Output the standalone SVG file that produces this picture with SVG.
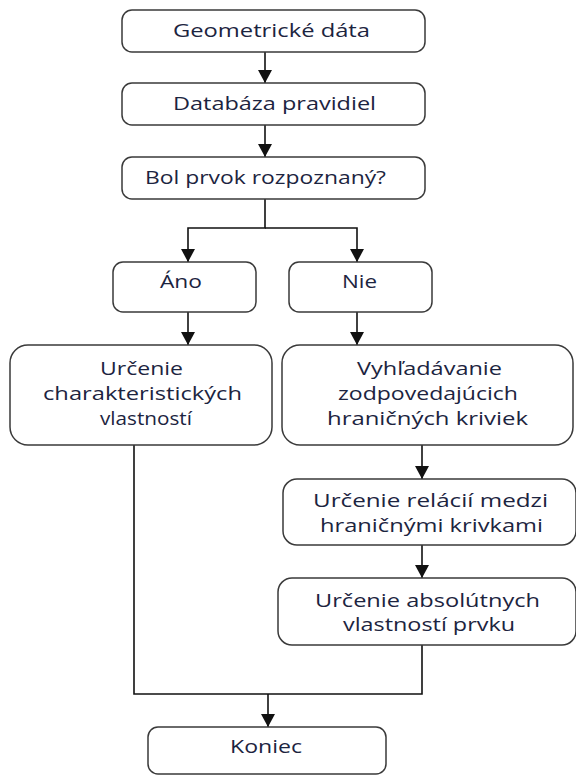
<svg xmlns="http://www.w3.org/2000/svg" width="576" height="776" viewBox="0 0 576 776">
  <style>
    .box { fill: #ffffff; stroke: #3a3a3a; stroke-width: 1.5; }
    .lbl { font-family: "Open Sans", "Liberation Sans", sans-serif; font-size: 18.5px; fill: #1c2440; text-anchor: middle; }
    .wire { fill: none; stroke: #111111; stroke-width: 1.6; }
  </style>
  <defs>
    <marker id="tip" viewBox="0 0 13 14" refX="13" refY="7" markerWidth="13" markerHeight="14" markerUnits="userSpaceOnUse" orient="auto">
      <path d="M0,0 L13,7 L0,14 Z" fill="#111111"/>
    </marker>
  </defs>
  <rect width="576" height="776" fill="#ffffff"/>

  <g id="connectors">
    <line class="wire" x1="265" y1="52" x2="265" y2="83" marker-end="url(#tip)"/>
    <line class="wire" x1="265" y1="125" x2="265" y2="157" marker-end="url(#tip)"/>
    <polyline class="wire" points="265,199 265,228 188,228 188,262" marker-end="url(#tip)"/>
    <polyline class="wire" points="265,228 357,228 357,262" marker-end="url(#tip)"/>
    <line class="wire" x1="188" y1="312" x2="188" y2="345" marker-end="url(#tip)"/>
    <line class="wire" x1="357" y1="312" x2="357" y2="345" marker-end="url(#tip)"/>
    <line class="wire" x1="422" y1="445" x2="422" y2="479" marker-end="url(#tip)"/>
    <line class="wire" x1="422" y1="545" x2="422" y2="578" marker-end="url(#tip)"/>
    <polyline class="wire" points="134,445 134,694 422,694 422,645"/>
    <line class="wire" x1="268" y1="694" x2="268" y2="727" marker-end="url(#tip)"/>
  </g>

  <g id="geometricke-data">
    <rect class="box" x="122" y="10" width="303" height="42" rx="10"/>
    <text class="lbl" x="271.5" y="36.5" textLength="197" lengthAdjust="spacingAndGlyphs">Geometrické dáta</text>
  </g>
  <g id="databaza-pravidiel">
    <rect class="box" x="122" y="83" width="303" height="42" rx="10"/>
    <text class="lbl" x="274.5" y="110" textLength="203" lengthAdjust="spacingAndGlyphs">Databáza pravidiel</text>
  </g>
  <g id="bol-prvok-rozpoznany">
    <rect class="box" x="122" y="157" width="303" height="42" rx="10"/>
    <text class="lbl" x="265.5" y="184" textLength="241" lengthAdjust="spacingAndGlyphs">Bol prvok rozpoznaný?</text>
  </g>
  <g id="ano">
    <rect class="box" x="113" y="262" width="143" height="50" rx="10"/>
    <text class="lbl" x="181" y="288" textLength="42" lengthAdjust="spacingAndGlyphs">Áno</text>
  </g>
  <g id="nie">
    <rect class="box" x="289" y="262" width="143" height="50" rx="10"/>
    <text class="lbl" x="359.5" y="288" textLength="35" lengthAdjust="spacingAndGlyphs">Nie</text>
  </g>
  <g id="urcenie-charakteristickych">
    <rect class="box" x="10" y="345" width="262" height="100" rx="18"/>
    <text class="lbl" x="141.5" y="375" textLength="83" lengthAdjust="spacingAndGlyphs">Určenie</text>
    <text class="lbl" x="142.5" y="400" textLength="199" lengthAdjust="spacingAndGlyphs">charakteristických</text>
    <text class="lbl" x="146" y="425" textLength="92" lengthAdjust="spacingAndGlyphs">vlastností</text>
  </g>
  <g id="vyhladavanie">
    <rect class="box" x="282" y="345" width="291" height="100" rx="18"/>
    <text class="lbl" x="429.5" y="375" textLength="145" lengthAdjust="spacingAndGlyphs">Vyhľadávanie</text>
    <text class="lbl" x="428" y="400" textLength="180" lengthAdjust="spacingAndGlyphs">zodpovedajúcich</text>
    <text class="lbl" x="427.5" y="425" textLength="201" lengthAdjust="spacingAndGlyphs">hraničných kriviek</text>
  </g>
  <g id="urcenie-relacii">
    <rect class="box" x="283" y="479" width="293" height="66" rx="14"/>
    <text class="lbl" x="430.5" y="507" textLength="235" lengthAdjust="spacingAndGlyphs">Určenie relácií medzi</text>
    <text class="lbl" x="431.5" y="532" textLength="223" lengthAdjust="spacingAndGlyphs">hraničnými krivkami</text>
  </g>
  <g id="urcenie-absolutnych">
    <rect class="box" x="278" y="578" width="298" height="67" rx="14"/>
    <text class="lbl" x="427.5" y="607" textLength="225" lengthAdjust="spacingAndGlyphs">Určenie absolútnych</text>
    <text class="lbl" x="429" y="631" textLength="172" lengthAdjust="spacingAndGlyphs">vlastností prvku</text>
  </g>
  <g id="koniec">
    <rect class="box" x="148" y="727" width="238" height="47" rx="10"/>
    <text class="lbl" x="266" y="753" textLength="72" lengthAdjust="spacingAndGlyphs">Koniec</text>
  </g>
</svg>
